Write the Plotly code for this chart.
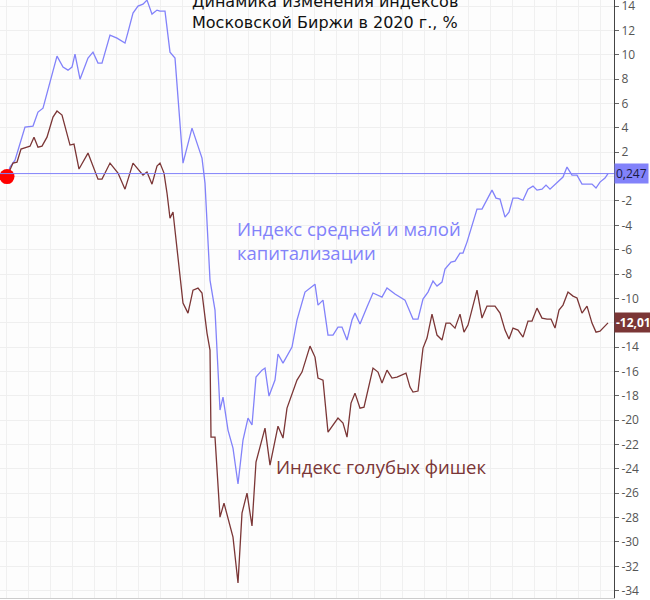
import plotly.graph_objects as go

# Индекс средней и малой капитализации (время в условных единицах, значения в %)
t_mid = [7, 10, 15, 25, 33, 38, 43, 57, 63, 68, 72, 75, 80, 88, 93, 98, 102, 110, 117, 125,
         128, 133, 138, 143, 147, 152, 157, 160, 165, 170, 175, 183, 192, 202, 205, 210, 215,
         220, 223, 228, 233, 238, 243, 248, 252, 256, 262, 265, 269, 275, 278, 283, 292, 297,
         305, 315, 318, 323, 328, 333, 338, 342, 347, 352, 355, 360, 367, 373, 382, 387, 395,
         405, 413, 418, 423, 428, 433, 437, 442, 445, 451, 455, 460, 463, 467, 472, 477, 482,
         487, 492, 496, 500, 505, 509, 513, 518, 523, 528, 533, 537, 542, 546, 550, 555, 560,
         563, 567, 572, 577, 582, 587, 592, 596, 600, 605, 608]
mid_cap = [0.0, 0.78, 1.35, 4.06, 4.15, 5.30, 5.62, 9.89, 8.99, 8.74, 8.99, 10.06, 8.00, 9.73,
           10.22, 9.32, 9.32, 11.62, 11.37, 10.96, 11.86, 13.42, 14.0, 14.16, 14.49, 13.34,
           13.67, 13.59, 13.59, 10.22, 9.73, 1.11, 3.98, 1.52, -0.53, -8.5, -10.96, -19.17,
           -18.1, -20.81, -22.3, -25.24, -21.63, -19.83, -20.4, -16.46, -15.89, -15.72, -18.02,
           -16.7, -14.57, -15.31, -14.0, -11.78, -9.48, -8.83, -10.55, -10.14, -13.01, -13.01,
           -12.36, -12.36, -13.42, -11.78, -11.21, -12.11, -10.71, -9.56, -9.89, -9.15, -9.64,
           -10.14, -11.70, -11.70, -10.06, -9.48, -8.58, -8.99, -8.66, -7.59, -7.02, -6.94,
           -6.28, -6.28, -5.38, -3.98, -2.67, -2.67, -1.85, -1.11, -1.77, -1.85, -3.33, -2.92,
           -1.77, -1.77, -1.94, -1.03, -0.78, -1.11, -1.03, -0.70, -1.03, -0.62, -0.21, -0.04,
           0.78, 0.12, 0.12, -0.62, -0.62, -0.62, -0.94, -0.45, -0.12, 0.247]

# Индекс голубых фишек
t_blue = [7, 13, 17, 21, 27, 30, 34, 38, 42, 47, 53, 57, 62, 70, 74, 79, 88, 98, 102, 110, 118,
          125, 133, 143, 147, 152, 157, 160, 164, 167, 170, 173, 183, 188, 193, 198, 202, 207,
          210, 211, 215, 220, 224, 233, 238, 242, 247, 252, 256, 265, 270, 278, 283, 287, 297,
          302, 310, 315, 318, 323, 328, 338, 343, 347, 351, 355, 360, 364, 373, 378, 382, 387,
          392, 397, 406, 410, 413, 418, 423, 427, 432, 437, 442, 446, 450, 455, 460, 464, 468,
          473, 477, 482, 487, 495, 500, 505, 509, 513, 518, 523, 528, 532, 537, 542, 547, 551,
          555, 559, 563, 568, 573, 577, 582, 587, 592, 596, 600, 608]
blue_chips = [0.0, 1.11, 1.19, 2.26, 2.42, 2.50, 3.24, 2.42, 2.50, 3.24, 4.89, 5.38, 5.05, 2.59,
              2.67, 0.62, 1.93, -0.21, -0.21, 1.11, 0.29, -1.03, 1.11, 0.12, 0.37, -0.62, 0.86,
              1.11, 0.29, -1.35, -3.41, -2.91, -10.39, -11.21, -9.32, -9.15, -9.56, -12.85,
              -14.24, -21.39, -21.39, -27.96, -26.81, -29.60, -33.37, -27.63, -25.99, -28.69,
              -23.44, -20.65, -23.69, -20.49, -21.47, -19.01, -16.71, -16.05, -13.92, -14.82,
              -16.54, -16.71, -20.98, -19.83, -20.24, -21.39, -18.60, -17.78, -19.01, -18.93,
              -15.72, -16.05, -16.95, -15.89, -16.54, -16.46, -16.13, -17.28, -17.69, -17.61,
              -14.08, -13.26, -11.29, -13.01, -13.42, -12.03, -12.03, -12.44, -11.29, -12.77,
              -12.19, -10.71, -9.32, -11.62, -10.63, -10.63, -11.21, -12.60, -13.34, -12.44,
              -12.60, -13.18, -11.86, -11.86, -10.80, -11.62, -11.70, -11.70, -12.44, -10.96,
              -10.55, -9.48, -9.81, -9.97, -11.21, -10.63, -12.03, -12.77, -12.69, -12.01]

y_ticks = list(range(-34, 15, 2))
y_tick_text = [str(v) for v in y_ticks]

MID_COLOR = "#8282fa"
BLUE_CHIP_COLOR = "#7b3636"

fig = go.Figure()

fig.add_trace(go.Scatter(
    x=t_mid, y=mid_cap, mode="lines",
    line=dict(color=MID_COLOR, width=1.3),
    showlegend=False, hoverinfo="skip",
))
fig.add_trace(go.Scatter(
    x=t_blue, y=blue_chips, mode="lines",
    line=dict(color=BLUE_CHIP_COLOR, width=1.3),
    showlegend=False, hoverinfo="skip",
))
# стартовая точка
fig.add_trace(go.Scatter(
    x=[t_mid[0]], y=[mid_cap[0]], mode="markers",
    marker=dict(color="#ff0000", size=15),
    cliponaxis=False, showlegend=False, hoverinfo="skip",
))

# линия последнего значения
fig.add_hline(y=mid_cap[-1], line=dict(color=MID_COLOR, width=1))

fig.update_layout(
    width=650,
    height=600,
    margin=dict(l=0, r=36, t=0, b=2, autoexpand=False),
    paper_bgcolor="white",
    plot_bgcolor="#fdfdfd",
    font=dict(family="Open Sans, sans-serif"),
    hovermode=False,
    xaxis=dict(
        range=[0, 614],
        automargin=False,
        showticklabels=False,
        showgrid=True, gridcolor="#f0f0f0", gridwidth=1,
        tick0=6, dtick=22,
        zeroline=False,
        showline=True, linecolor="#cccccc", mirror=False,
        ticks="",
    ),
    yaxis=dict(
        side="right",
        automargin=False,
        range=[-34.6, 14.5],
        tickvals=y_ticks,
        ticktext=y_tick_text,
        ticklabeloverflow="allow",
        ticks="outside", ticklen=4, tickcolor="#666666",
        tickfont=dict(family="Open Sans, sans-serif", size=12, color="#555555"),
        showgrid=True, gridcolor="#efefef",
        zeroline=False,
        showline=True, linecolor="#444444", linewidth=1,
    ),
    annotations=[
        dict(
            text="Динамика изменения индексов<br>Московской Биржи в 2020 г., %",
            xref="paper", yref="paper", x=190 / 614, y=1.0, yshift=10,
            xanchor="left", yanchor="top", align="left", showarrow=False,
            font=dict(family="DejaVu Sans, sans-serif", size=16, color="#111111"),
        ),
        dict(
            text="Индекс средней и малой<br>капитализации",
            xref="paper", yref="paper", x=235 / 614, y=1 - 214 / 598,
            xanchor="left", yanchor="top", align="left", showarrow=False,
            font=dict(size=18.5, color=MID_COLOR),
        ),
        dict(
            text="Индекс голубых фишек",
            xref="paper", yref="paper", x=274 / 614, y=1 - 466 / 598,
            xanchor="left", yanchor="middle", align="left", showarrow=False,
            font=dict(size=18.5, color=BLUE_CHIP_COLOR),
        ),
        dict(
            text="0,247", xref="paper", yref="y", x=1, y=mid_cap[-1],
            xanchor="left", yanchor="middle", showarrow=False,
            bgcolor=MID_COLOR, borderpad=1,
            font=dict(size=12, color="#1a1a40"),
        ),
        dict(
            text="<b>-12,01</b>", xref="paper", yref="y", x=1, y=blue_chips[-1],
            xanchor="left", yanchor="middle", showarrow=False,
            bgcolor=BLUE_CHIP_COLOR, borderpad=1,
            font=dict(size=12, color="white"),
        ),
    ],
)

# убираем стандартный отступ страницы, чтобы график занимал окно целиком
fig.write_html(
    "out.html",
    config={"displayModeBar": False},
    post_script="document.body.style.margin='0px';document.body.style.overflow='hidden';",
)
